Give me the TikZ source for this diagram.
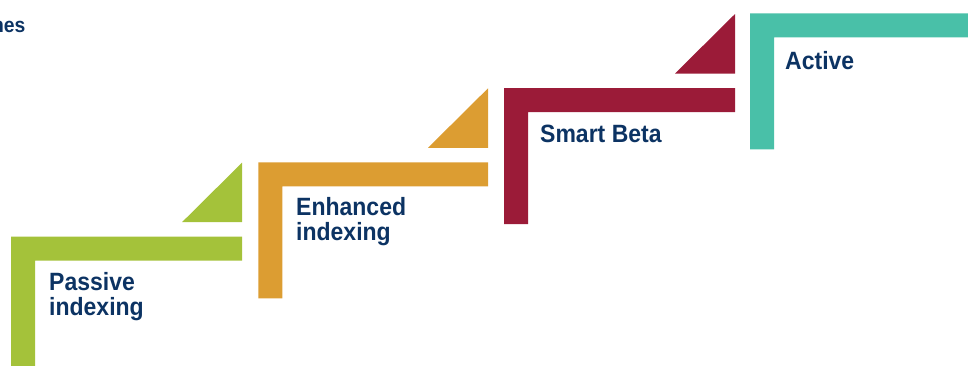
\documentclass[tikz,border=0pt]{standalone}
\usepackage{fontspec}
\setmainfont{Liberation Sans}[FakeStretch=0.92]
\definecolor{cgreen}{HTML}{A4C23A}
\definecolor{corange}{HTML}{DC9D32}
\definecolor{cred}{HTML}{9B1B38}
\definecolor{cteal}{HTML}{49C0A8}
\definecolor{navy}{HTML}{0C3363}
\tikzset{
  stagetext/.style={anchor=base west, inner sep=0pt, text=navy, align=left,
    font=\fontsize{25}{24.5}\selectfont\bfseries},
  titletext/.style={anchor=base east, inner sep=0pt, text=navy,
    font=\fontsize{21}{21}\selectfont\bfseries},
}
% \stairstep{colour}{outer x}{top y}{right x}
\newcommand{\stairstep}[4]{%
  \fill[#1] (#2,#3) -- (#4,#3) -- (#4,#3+24) -- (#2+24,#3+24) -- (#2+24,#3+136)
    -- (#2,#3+136) -- cycle;
}
\newcommand{\stairtri}[3]{%
  \fill[#1] (#2-60,#3-14.5) -- (#2,#3-14.5) -- (#2,#3-74) -- cycle;
}
\begin{document}
\begin{tikzpicture}[x=1pt,y=-1pt]
\useasboundingbox (0,0) rectangle (968,365);
\clip (0,0) rectangle (968,365);
% steps
\stairstep{cgreen}{11}{236.7}{242}
\stairtri{cgreen}{242}{236.7}
\stairstep{corange}{258.3}{162.3}{488}
\stairtri{corange}{488}{162.3}
\stairstep{cred}{504}{88}{735}
\stairtri{cred}{735}{88}
\stairstep{cteal}{750}{13.3}{980}
% labels (two-line labels are anchored at the baseline of their last line)
\node[titletext] (title) at (25.5,32.3) {nes};
\node[stagetext] (passive) at (49,315) {Passive\\indexing};
\node[stagetext] (enhanced) at (296,240) {Enhanced\\indexing};
\node[stagetext] (smart) at (540,142.7) {Smart Beta};
\node[stagetext] (active) at (785,69) {Active};
\end{tikzpicture}
\end{document}
